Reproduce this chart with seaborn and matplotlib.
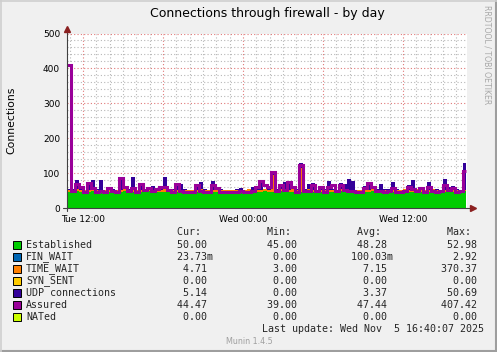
import numpy as np
import pandas as pd
import matplotlib
matplotlib.use("Agg")
import matplotlib.pyplot as plt
from matplotlib.patches import Rectangle
from matplotlib.lines import Line2D
from matplotlib.ticker import FixedLocator, FixedFormatter, MultipleLocator
import seaborn as sns

# ---------------- data (sampled every ~18 min, starting Tue 10:48) ----------------
established = [47, 47, 48, 47, 46, 47, 48, 47, 47, 46,
               47, 47, 46, 47, 48, 47, 47, 46, 47, 47,
               48, 47, 46, 46, 47, 47, 48, 47, 46, 47,
               47, 46, 47, 48, 47, 46, 46, 47, 47, 46,
               46, 47, 47, 46, 46, 47, 46, 47, 47, 48,
               47, 46, 47, 48, 47, 46, 47, 47, 46, 47,
               48, 47, 46, 47, 47, 46, 47, 47, 48, 47,
               46, 47, 47, 46, 47, 47, 48, 47, 46, 47,
               47, 46, 47, 47, 48, 47, 46, 47, 47, 46,
               47, 48, 47, 46, 47, 47, 46, 47, 47, 48]
fin_wait = [0, 0, 0, 0, 0, 0, 0, 0, 0, 0,
            0, 0, 0, 0, 0, 0, 0, 0, 0, 0,
            0, 0, 0, 0, 0, 0, 0, 0, 0, 0,
            0, 0, 0, 0, 0, 0, 0, 0, 0, 0,
            0, 0, 0, 0, 0, 0, 0, 0, 0, 0,
            0, 0, 0, 0, 0, 0, 0, 0, 0, 0,
            0, 0, 0, 0, 0, 0, 0, 0, 0, 0,
            0, 0, 0, 0, 0, 0, 0, 0, 0, 0,
            0, 0, 0, 0, 0, 0, 0, 0, 0, 0,
            0, 0, 0, 0, 0, 0, 0, 0, 0, 0]
time_wait = [6, 6, 6, 5, 6, 6, 7, 6, 5, 6,
             6, 6, 5, 6, 7, 6, 6, 5, 6, 6,
             6, 5, 6, 6, 7, 6, 5, 6, 6, 6,
             5, 6, 6, 7, 6, 6, 5, 6, 6, 6,
             6, 5, 6, 6, 6, 7, 6, 6, 5, 6,
             6, 50, 6, 6, 5, 6, 7, 6, 70, 6,
             6, 5, 6, 6, 6, 7, 6, 5, 6, 6,
             6, 6, 5, 6, 7, 6, 6, 6, 5, 6,
             6, 7, 6, 5, 6, 6, 6, 7, 6, 5,
             6, 6, 6, 5, 6, 7, 6, 6, 5, 5]
syn_sent = [0, 0, 0, 0, 0, 0, 0, 0, 0, 0,
            0, 0, 0, 0, 0, 0, 0, 0, 0, 0,
            0, 0, 0, 0, 0, 0, 0, 0, 0, 0,
            0, 0, 0, 0, 0, 0, 0, 0, 0, 0,
            0, 0, 0, 0, 0, 0, 0, 0, 0, 0,
            0, 0, 0, 0, 0, 0, 0, 0, 0, 0,
            0, 0, 0, 0, 0, 0, 0, 0, 0, 0,
            0, 0, 0, 0, 0, 0, 0, 0, 0, 0,
            0, 0, 0, 0, 0, 0, 0, 0, 0, 0,
            0, 0, 0, 0, 0, 0, 0, 0, 0, 0]
udp = [1, 1, 28, 3, 1, 21, 25, 1, 28, 1,
       3, 1, 1, 37, 5, 2, 36, 1, 19, 1,
       4, 11, 1, 2, 34, 1, 1, 17, 16, 1,
       1, 1, 16, 21, 1, 1, 26, 2, 1, 1,
       1, 1, 1, 6, 1, 1, 9, 2, 28, 2,
       2, 11, 1, 16, 22, 26, 2, 1, 13, 1,
       16, 21, 1, 2, 1, 26, 2, 1, 19, 17,
       31, 26, 1, 1, 9, 21, 2, 1, 19, 1,
       1, 21, 1, 1, 1, 14, 28, 1, 2, 1,
       21, 1, 1, 1, 31, 7, 11, 1, 1, 77]
assured = [410, 48, 70, 62, 46, 72, 58, 47, 50, 46,
           57, 50, 46, 86, 62, 50, 58, 47, 70, 52,
           58, 48, 55, 62, 60, 52, 47, 69, 48, 46,
           45, 47, 67, 50, 46, 47, 67, 58, 46, 45,
           46, 45, 47, 48, 46, 47, 49, 60, 77, 65,
           62, 105, 50, 67, 52, 75, 62, 47, 123, 48,
           50, 67, 48, 62, 47, 60, 67, 50, 67, 52,
           48, 50, 46, 47, 58, 72, 62, 48, 50, 46,
           48, 58, 47, 46, 48, 62, 56, 50, 58, 47,
           62, 50, 46, 48, 67, 52, 58, 47, 48, 107]
nated = [0, 0, 0, 0, 0, 0, 0, 0, 0, 0,
         0, 0, 0, 0, 0, 0, 0, 0, 0, 0,
         0, 0, 0, 0, 0, 0, 0, 0, 0, 0,
         0, 0, 0, 0, 0, 0, 0, 0, 0, 0,
         0, 0, 0, 0, 0, 0, 0, 0, 0, 0,
         0, 0, 0, 0, 0, 0, 0, 0, 0, 0,
         0, 0, 0, 0, 0, 0, 0, 0, 0, 0,
         0, 0, 0, 0, 0, 0, 0, 0, 0, 0,
         0, 0, 0, 0, 0, 0, 0, 0, 0, 0,
         0, 0, 0, 0, 0, 0, 0, 0, 0, 0]

series_names = ["Established", "FIN_WAIT", "TIME_WAIT", "SYN_SENT",
                "UDP connections", "Assured", "NATed"]
series_colors = ["#00CC00", "#0066B3", "#FF8000", "#FFCC00",
                 "#330099", "#990099", "#CCFF00"]
cur_vals = ["50.00", "23.73m", "4.71", "0.00", "5.14", "44.47", "0.00"]
min_vals = ["45.00", "0.00", "3.00", "0.00", "0.00", "39.00", "0.00"]
avg_vals = ["48.28", "100.03m", "7.15", "0.00", "3.37", "47.44", "0.00"]
max_vals = ["52.98", "2.92", "370.37", "0.00", "50.69", "407.42", "0.00"]

x_tick_hours = [0, 6, 12, 18, 24]           # hours after Tue 12:00
x_tick_labels = ["Tue 12:00", "", "Wed 00:00", "", "Wed 12:00"]
y_ticks = [0, 100, 200, 300, 400, 500]

title = "Connections through firewall - by day"
ylabel = "Connections"
last_update = "Last update: Wed Nov  5 16:40:07 2025"

# ---------------- figure ----------------
W, H = 497, 352
sns.set_style("white")
plt.rcParams["font.family"] = ["DejaVu Sans"]

fig = plt.figure(figsize=(W / 100, H / 100), dpi=100, facecolor="#F0F0F0")
L, R, T, B = 67, 467, 33.5, 208.2
ax = fig.add_axes([L / W, 1 - B / H, (R - L) / W, (B - T) / H], facecolor="white")

n = len(established)
step_h = 0.3
t = -1.2 + step_h * np.arange(n)
t_e = np.append(t, t[-1] + step_h * 0.75)


def ext(v):
    v = np.asarray(v, dtype=float)
    return np.append(v, v[-1])


df = pd.DataFrame({"t": t_e, "assured": ext(assured), "nated": ext(nated)})

base = np.zeros(len(t_e))
for vals, col in zip([established, fin_wait, time_wait, syn_sent, udp], series_colors[:5]):
    top = base + ext(vals)
    ax.fill_between(t_e, base, top, step="post", color=col, lw=0, zorder=2)
    base = top

sns.lineplot(data=df, x="t", y="assured", ax=ax, color=series_colors[5], lw=2.2,
             drawstyle="steps-post", estimator=None, legend=False, zorder=3,
             solid_joinstyle="miter", solid_capstyle="butt")
sns.lineplot(data=df, x="t", y="nated", ax=ax, color=series_colors[6], lw=0.8,
             drawstyle="steps-post", estimator=None, legend=False, zorder=1)

ax.set_xlim(-1.2, 28.8)
ax.set_ylim(0, 500)
ax.set_xlabel("")
ax.set_ylabel("")

ax.xaxis.set_major_locator(FixedLocator(x_tick_hours))
ax.xaxis.set_major_formatter(FixedFormatter(x_tick_labels))
ax.xaxis.set_minor_locator(MultipleLocator(1))
ax.yaxis.set_major_locator(FixedLocator(y_ticks))
ax.yaxis.set_minor_locator(MultipleLocator(20))

ax.grid(True, which="minor", color="#B8B8B8", ls=(0, (1, 2)), lw=0.8, zorder=0)
ax.grid(True, which="major", color="#E07878", ls=(0, (1, 2)), lw=0.8, zorder=0)
ax.set_axisbelow(True)

ax.tick_params(which="major", length=2, width=0.7, color="#505050", direction="out",
               labelsize=6.5, labelcolor="black", pad=3)
ax.tick_params(which="minor", length=1.5, width=0.6, color="#808080", direction="out")
for s in ax.spines.values():
    s.set_visible(False)

# axis lines with arrows
px_x = 1.0 / (R - L)
px_y = 1.0 / (B - T)
ax.add_line(Line2D([-4 * px_x, 1 + 6 * px_x], [0, 0], transform=ax.transAxes,
                   color="#404040", lw=0.8, clip_on=False, zorder=5))
ax.add_line(Line2D([0, 0], [-3 * px_y, 1 + 5 * px_y], transform=ax.transAxes,
                   color="#404040", lw=0.8, clip_on=False, zorder=5))
ax.plot([1 + 5.5 * px_x], [0], marker=">", ms=4, color="#8B2020", mec="#8B2020",
        transform=ax.transAxes, clip_on=False, zorder=6)
ax.plot([0], [1 + 5 * px_y], marker="^", ms=4, color="#8B2020", mec="#8B2020",
        transform=ax.transAxes, clip_on=False, zorder=6)


def ftext(x, y, s, **kw):
    fig.text(x / W, 1 - y / H, s, **kw)


ftext(267.5, 14, title, ha="center", va="center", fontsize=9, color="black")
ftext(11, 120, ylabel, ha="center", va="center", rotation=90, fontsize=7.8, color="black")
ftext(487, 55, "RRDTOOL / TOBI OETIKER", ha="center", va="center", rotation=270,
      fontsize=5.6, color="#A8A8A8")

# legend table
mono = "DejaVu Sans Mono"
fs = 7.2
cw = fs * 100 / 72 * 0.602
line_x0 = 213 - 15 * cw


def field(s):
    if s and s[-1].isalpha():
        return s.rjust(15)
    return (s + " ").rjust(15)


hdr = "".join(h.ljust(6).rjust(15) for h in ["Cur:", "Min:", "Avg:", "Max:"])
ftext(line_x0, 232, hdr, ha="left", va="center", family=mono, fontsize=fs)

row_y0, row_dy = 244.5, 12
for k, name in enumerate(series_names):
    y = row_y0 + k * row_dy
    fig.patches.append(Rectangle((13 / W, 1 - (y + 4) / H), 8 / W, 8 / H,
                                 transform=fig.transFigure, fc=series_colors[k],
                                 ec="black", lw=0.7))
    ftext(26, y, name, ha="left", va="center", family=mono, fontsize=fs)
    row = "".join(field(v) for v in (cur_vals[k], min_vals[k], avg_vals[k], max_vals[k]))
    ftext(line_x0, y, row, ha="left", va="center", family=mono, fontsize=fs)

ftext(483.5, 328.5, last_update, ha="right", va="center", family=mono, fontsize=fs)
ftext(249, 341, "Munin 1.4.5", ha="center", va="center", fontsize=5.8, color="#A0A0A0")

# 3D-ish border
fig.lines.append(Line2D([0, 1], [1 - 351 / H, 1 - 351 / H], transform=fig.transFigure,
                        color="#9E9E9E", lw=1.5))
fig.lines.append(Line2D([1 - 1 / W, 1 - 1 / W], [0, 1], transform=fig.transFigure,
                        color="#9E9E9E", lw=1.5))
fig.lines.append(Line2D([0, 1], [1 - 0.5 / H, 1 - 0.5 / H], transform=fig.transFigure,
                        color="#CFCFCF", lw=1.2))
fig.lines.append(Line2D([0.5 / W, 0.5 / W], [0, 1], transform=fig.transFigure,
                        color="#CFCFCF", lw=1.2))

fig.savefig("out.png", dpi=100, facecolor=fig.get_facecolor())
